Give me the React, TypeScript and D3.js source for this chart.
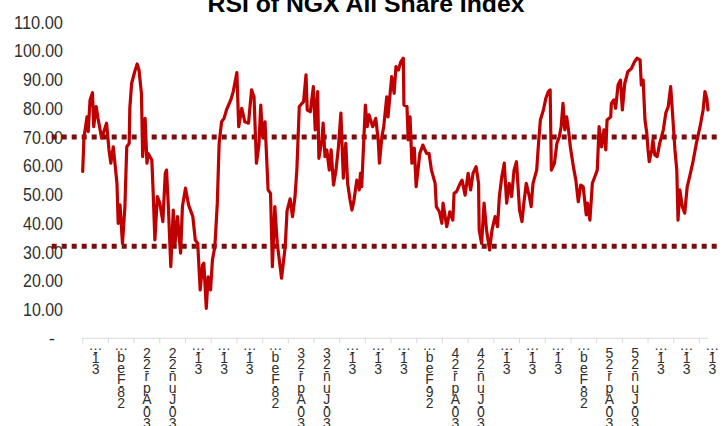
import React from 'react';
import * as d3 from 'd3';

const chartTitle = 'RSI of NGX All Share Index';
const yTicks = [0, 10, 20, 30, 40, 50, 60, 70, 80, 90, 100, 110];
const bandLevels = [70, 32];
// stacked x labels exactly as they are shown under the axis
const tickLabels = [
  '…-13', '…beF-82', '22-rpA-03', '22-nuJ-03', '…-13', '…-13', '…-13',
  '…beF-82', '32-rpA-03', '32-nuJ-03', '…-13', '…-13', '…-13',
  '…beF-92', '42-rpA-03', '42-nuJ-03', '…-13', '…-13', '…-13',
  '…beF-82', '52-rpA-03', '52-nuJ-03', '…-13', '…-13', '…-13',
];
const sessionsPerTick = 42;
const lastSession = 1022;

// trading-session index and RSI value
const sessionIdx = [
  0, 2, 7, 9, 12, 16, 18, 22, 25, 31, 39, 43, 46, 50, 56, 58, 61, 65, 69, 72,
  76, 77, 80, 85, 89, 92, 96, 98, 102, 105, 107, 113, 115, 118, 122, 126, 131, 135, 137, 140,
  144, 148, 151, 155, 160, 163, 168, 173, 180, 184, 188, 192, 196, 198, 202, 205, 209, 212, 216, 220,
  223, 227, 231, 235, 242, 246, 252, 255, 260, 265, 271, 276, 280, 284, 288, 291, 294, 298, 303, 307,
  310, 314, 318, 325, 331, 334, 339, 343, 347, 350, 354, 361, 365, 367, 372, 377, 380, 384, 386, 391,
  393, 396, 399, 403, 406, 410, 414, 418, 422, 426, 430, 433, 437, 440, 443, 448, 452, 454, 456, 462,
  465, 468, 474, 479, 483, 485, 489, 492, 497, 499, 505, 509, 512, 516, 520, 524, 525, 530, 532, 535,
  538, 542, 545, 548, 551, 556, 562, 566, 570, 576, 578, 583, 587, 589, 595, 600, 605, 607, 611, 617,
  620, 625, 630, 634, 638, 643, 647, 648, 652, 656, 660, 665, 669, 674, 678, 681, 685, 689, 693, 697,
  701, 705, 709, 714, 718, 721, 725, 730, 733, 736, 742, 745, 748, 753, 757, 761, 764, 766, 771, 775,
  779, 782, 785, 788, 791, 794, 797, 802, 806, 810, 814, 818, 823, 825, 829, 833, 837, 841, 844, 848,
  852, 855, 857, 863, 864, 868, 871, 875, 879, 882, 886, 891, 897, 902, 906, 911, 913, 916, 919, 922,
  924, 926, 930, 932, 935, 939, 943, 949, 953, 957, 961, 964, 968, 971, 973, 976, 980, 984, 988, 992,
  997, 1003, 1009, 1014, 1017, 1020, 1022,
];
const rsiValues = [
  58, 69.7, 77, 71.9, 82.9, 85.4, 73.6, 80.6, 76.5, 69.6, 74.8, 65.5, 60.9, 66.6, 53.9, 40, 46.4, 33, 45.8, 66.6,
  67.8, 80, 88.7, 92.7, 95.4, 93.3, 85.2, 63.2, 76.5, 60.9, 64.3, 62, 51.6, 34.2, 49.3, 47, 40.6, 57.4, 58.5, 45.8,
  24.9, 44.6, 33, 42.3, 29.6, 45.8, 52.2, 46.4, 42.3, 34.2, 33, 16.8, 25.5, 26.1, 10.4, 21.4, 16.8, 27.2, 31.9, 47,
  67.8, 75.3, 76.5, 79.4, 82.9, 85.8, 92.4, 73.6, 80, 75.3, 74.8, 86.4, 84, 60.9, 67.2, 81.1, 70.1, 75.3, 51.6, 50.4,
  24.9, 45.8, 33, 20.9, 31.9, 44.3, 48.5, 42.3, 49.3, 58.5, 80.6, 82.3, 91.6, 79.4, 78.8, 87.5, 72.5, 85.8, 62.6, 69,
  74.8, 63.2, 65.5, 58.5, 65.5, 53.3, 58.5, 66.6, 78.3, 55.7, 67.8, 53.9, 48.1, 44.6, 47.5, 55, 51.6, 57.4, 52.7, 81.1,
  73.6, 77.7, 73.6, 76.5, 69, 60.9, 70.1, 73.6, 84, 77, 91, 85.2, 94.5, 93.3, 96.2, 97.4, 81.1, 80.6, 69, 77,
  60.9, 66.1, 52.7, 58.5, 64.3, 67.2, 64.3, 64.3, 58.5, 53.9, 45.8, 44, 40, 47, 38.8, 44, 41.1, 50.4, 51, 53.9,
  55, 49.8, 57.4, 51.6, 57.4, 59.7, 53.9, 37.7, 33, 47, 37.7, 30.7, 37.7, 42.3, 38.8, 49.3, 56.2, 60.9, 47, 53.9,
  49.3, 58.5, 61.4, 44.6, 40.6, 47, 53.9, 49.3, 45.8, 53.9, 58.5, 67.8, 75.9, 79.4, 83.5, 85.8, 86.4, 58.5, 60.9, 67.8,
  70.1, 73.6, 81.7, 72.5, 77, 72.5, 66.6, 59.7, 55, 47.5, 53.3, 52.7, 42.9, 47, 41.1, 53.9, 56.2, 58.5, 73.6, 66.6,
  72.5, 65.5, 75.9, 77, 81.7, 82.9, 80, 88.1, 89.8, 79.4, 88.7, 92.7, 93.9, 96.2, 97.4, 96.8, 88.1, 89.8, 75.9, 71.3,
  65.5, 61.4, 65.5, 69, 63.8, 63.2, 67.8, 72.5, 78.3, 80.6, 87.5, 78.3, 65.5, 58.5, 41.1, 51.6, 45.8, 43.5, 52.7, 56.2,
  60.9, 67.8, 73.6, 79.4, 85.8, 83.5, 79.4,
];

const W = 727;
const H = 426;
const margin = { top: 22, right: 19, bottom: 87.7, left: 82.7 };
const labelFont = "'Liberation Sans', Arial, sans-serif";

function StackedLabel({ text, cx }: { text: string; cx: number }) {
  let cy = 347;
  const parts: React.ReactNode[] = [];
  Array.from(text).forEach((ch, i) => {
    let base: number;
    if (ch === '…') {
      base = cy + 3;
      cy += 4;
    } else if (ch === '-') {
      base = cy + 6;
      cy += 1;
    } else {
      base = cy + 10.5;
      cy += 11.4;
    }
    parts.push(
      <text key={i} x={cx} y={base} textAnchor="middle">
        {ch}
      </text>
    );
  });
  return <g>{parts}</g>;
}

// narrow look of the y labels: 9px per digit, 4px for the point
const yLabelWidth = (s: string) =>
  Array.from(s).reduce((w, c) => w + (c === '.' ? 4 : 9), 0);

export default function App() {
  const x = d3.scaleLinear().domain([0, lastSession]).range([margin.left, 708]);
  const y = d3.scaleLinear().domain([0, 110]).range([H - margin.bottom, margin.top]);
  const data = sessionIdx.map((s, i) => ({ s, v: rsiValues[i] }));
  const line = d3
    .line<{ s: number; v: number }>()
    .x((d) => x(d.s))
    .y((d) => y(d.v));

  const tickSessions = tickLabels.map((_, i) => i * sessionsPerTick);
  const [x0, x1] = x.range();

  return (
    <svg
      width={W}
      height={H}
      style={{ position: 'absolute', left: 0, top: 0, background: '#fff' }}
    >
      <text
        x={366}
        y={11.5}
        textAnchor="middle"
        fontFamily="'Liberation Sans', Arial, sans-serif"
        fontWeight="bold"
        fontSize={23}
        textLength={317}
        lengthAdjust="spacingAndGlyphs"
        fill="#000"
      >
        {chartTitle}
      </text>

      {/* y tick labels */}
      <g fontFamily={labelFont} fontSize={18.5} fill="#303030">
        {yTicks.map((t) => {
          const s = t.toFixed(2);
          return t === 0 ? (
            <text key={t} x={55} y={y(t)} dy="0.36em" textAnchor="end">
              -
            </text>
          ) : (
            <text
              key={t}
              x={63}
              y={y(t)}
              dy="0.36em"
              textAnchor="end"
              textLength={yLabelWidth(s)}
              lengthAdjust="spacingAndGlyphs"
            >
              {s}
            </text>
          );
        })}
      </g>

      {/* x axis */}
      <line x1={x0} x2={x1} y1={y(0)} y2={y(0)} stroke="#d9d9d9" strokeWidth={1} />
      {tickSessions.map((s) => (
        <line key={s} x1={x(s)} x2={x(s)} y1={y(0)} y2={y(0) + 5} stroke="#d9d9d9" strokeWidth={1} />
      ))}
      <g fontFamily={labelFont} fontSize={14} fill="#303030">
        {tickLabels.map((lab, i) => (
          <StackedLabel key={i} text={lab} cx={x(i * sessionsPerTick + sessionsPerTick / 2)} />
        ))}
      </g>

      {/* overbought / oversold levels */}
      {bandLevels.map((lv) => (
        <line
          key={lv}
          x1={x0 - 31}
          x2={x1 + 10}
          y1={y(lv)}
          y2={y(lv)}
          stroke="#7b0d0d"
          strokeWidth={5}
          strokeDasharray="5,5"
        />
      ))}

      <path
        d={line(data) || ''}
        fill="none"
        stroke="#c00000"
        strokeWidth={3.2}
        strokeLinejoin="round"
        strokeLinecap="round"
      />
    </svg>
  );
}
